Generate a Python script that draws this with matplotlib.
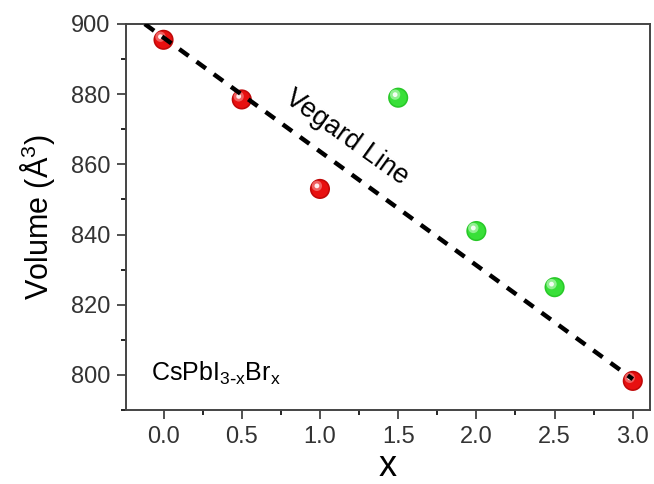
import matplotlib
matplotlib.use("Agg")
from matplotlib import pyplot as plt
from matplotlib.ticker import MultipleLocator
from matplotlib.transforms import offset_copy

# Unit cell volume of CsPbI(3-x)Br(x) nanocrystals
x_red = [0.0, 0.5, 1.0, 3.0]
vol_red = [895.5, 878.5, 853.0, 798.3]
x_green = [1.5, 2.0, 2.5]
vol_green = [879.0, 841.0, 825.0]

# Vegard line end points
vegard_x = [-0.12, 3.0]
vegard_v = [900.0, 798.8]

plt.rcParams["font.family"] = ["Liberation Sans", "DejaVu Sans"]

fig = plt.figure(figsize=(6.54, 4.84), dpi=100)
ax = fig.add_axes([126 / 654, 1 - 410 / 484, 524 / 654, 386 / 484])


def spheres(xs, ys, dark, mid, light):
    # shaded ball: dark rim, lighter body, small white highlight up-left
    ax.scatter(xs, ys, s=210, color=dark, edgecolors="none", zorder=3)
    ax.scatter(xs, ys, s=150, color=mid, edgecolors="none", zorder=3)
    hl = offset_copy(ax.transData, fig=fig, x=-2.2, y=2.2, units="points")
    ax.scatter(xs, ys, s=55, color=light, edgecolors="none", zorder=3,
               transform=hl)
    ax.scatter(xs, ys, s=12, color="white", edgecolors="none", zorder=3,
               transform=hl, alpha=0.9)


spheres(x_red, vol_red, "#c00808", "#e81010", "#f06060")
spheres(x_green, vol_green, "#28c828", "#38e038", "#90f090")

ax.plot(vegard_x, vegard_v, color="black", lw=3.2, ls=(0, (2.6, 2.2)),
        zorder=4)

ax.text(1.17, 867.5, "Vegard Line", rotation=-35.5, fontsize=19.5,
        ha="center", va="center")
ax.text(-0.08, 800.5, r"CsPbI$_{\mathregular{3\text{-}x}}$Br$_{\mathregular{x}}$",
        fontsize=18, ha="left", va="center")

ax.set_xlim(-0.24, 3.11)
ax.set_ylim(790, 900)
ax.xaxis.set_major_locator(MultipleLocator(0.5))
ax.xaxis.set_minor_locator(MultipleLocator(0.25))
ax.yaxis.set_major_locator(MultipleLocator(20))
ax.yaxis.set_minor_locator(MultipleLocator(10))
ax.xaxis.set_major_formatter(plt.FuncFormatter(lambda v, p: f"{v:.1f}"))
ax.tick_params(which="major", direction="out", length=6.5, width=1.2,
               labelsize=17, colors="#333333", pad=5)
ax.tick_params(which="minor", direction="out", length=3.5, width=1.2)
ax.tick_params(top=False, right=False)
for sp in ax.spines.values():
    sp.set_linewidth(1.4)
    sp.set_color("#444444")

ax.set_xlabel("x", fontsize=26, labelpad=1)
ax.set_ylabel(r"Volume ($\mathregular{\AA^3}$)", fontsize=22, labelpad=10)

fig.savefig("out.png", dpi=100)
